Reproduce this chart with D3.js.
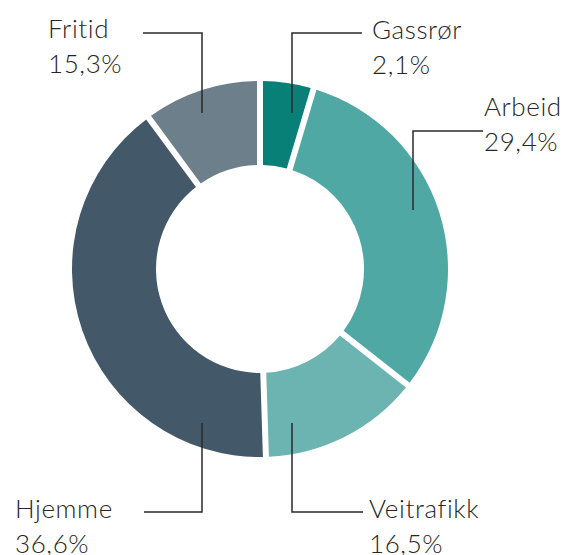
<!DOCTYPE html>
<html lang="no">
<head>
    <meta charset="UTF-8">
    <title>Donut</title>
    <script src="https://d3js.org/d3.v7.min.js"></script>
    <style>
        body { margin: 0; background: #fff; }
        .label { font-family: Lato, "Noto Sans", sans-serif; font-weight: 300; font-size: 26px; letter-spacing: 0.6px; fill: #262626; }
    </style>
</head>
<body>
    <div class="donut"></div>
    <script>
        // kategorier og verdier
        const categories = ["Gassrør", "Arbeid", "Veitrafikk", "Hjemme", "Fritid"];
        // slice sizes as drawn in the picture (degrees-based estimate)
        const sliceValues = [4.6, 31.0, 13.9, 40.4, 10.1];
        // percentages printed in the labels
        const labelValues = ["2,1%", "29,4%", "16,5%", "36,6%", "15,3%"];
        const colors = ["#087f77", "#50a8a5", "#6bb4b1", "#435869", "#6c7f8b"];

        const w = 572, h = 555;
        const cx = 260, cy = 269, rOuter = 188, rInner = 104;

        const svg = d3.select(".donut").append("svg").attr("width", w).attr("height", h);

        const pie = d3.pie().sort(null).value(d => d);
        const padR = Math.sqrt(rOuter * rOuter + rInner * rInner);
        const arc = d3.arc()
            .innerRadius(rInner)
            .outerRadius(rOuter)
            .padRadius(padR)
            .padAngle(6 / padR);

        const g = svg.append("g").attr("transform", `translate(${cx},${cy})`);
        g.selectAll("path")
            .data(pie(sliceValues))
            .enter()
            .append("path")
            .attr("d", arc)
            .attr("fill", (d, i) => colors[i]);

        // leader lines: point in slice -> elbow -> end, plus text position (page coords)
        const layout = [
            { pts: [[292, 113], [292, 33], [362, 33]], tx: 372, ty: 39 },
            { pts: [[413, 210], [413, 131], [483, 131]], tx: 484, ty: 116 },
            { pts: [[292, 423], [292, 512], [363, 512]], tx: 369, ty: 518 },
            { pts: [[202, 423], [202, 512], [144, 512]], tx: 15, ty: 518 },
            { pts: [[202, 113], [202, 33], [143, 33]], tx: 48, ty: 38 }
        ];

        const line = d3.line();
        svg.selectAll(".leader")
            .data(layout)
            .enter()
            .append("path")
            .attr("class", "leader")
            .attr("d", d => line(d.pts))
            .attr("fill", "none")
            .attr("stroke", "#2a2a2a")
            .attr("stroke-width", 1.5);

        const labels = svg.selectAll(".label")
            .data(categories)
            .enter()
            .append("text")
            .attr("class", "label")
            .attr("x", (d, i) => layout[i].tx)
            .attr("y", (d, i) => layout[i].ty);
        labels.append("tspan").text(d => d);
        labels.append("tspan")
            .attr("x", (d, i) => layout[i].tx)
            .attr("dy", 35)
            .text((d, i) => labelValues[i]);
    </script>
</body>
</html>
